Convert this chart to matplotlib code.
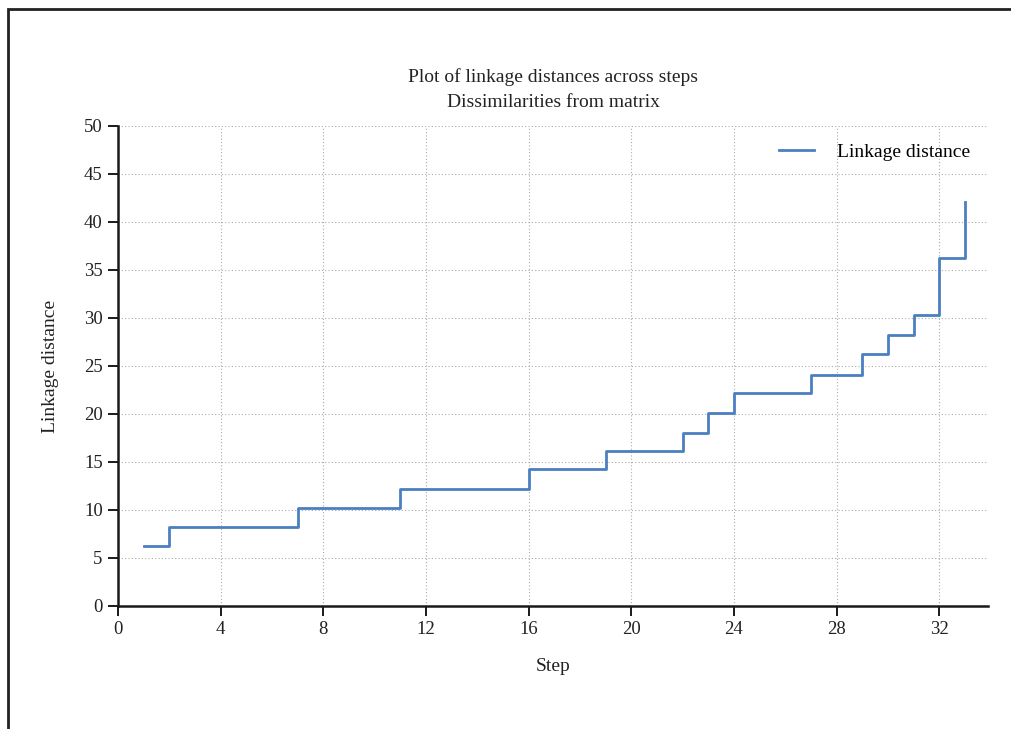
import matplotlib
matplotlib.use("Agg")
import matplotlib.pyplot as plt
from matplotlib.patches import Rectangle

steps = list(range(1, 34))
distances = [6.2, 8.2, 8.2, 8.2, 8.2, 8.2, 10.2, 10.2, 10.2, 10.2,
             12.2, 12.2, 12.2, 12.2, 12.2, 14.3, 14.3, 14.3, 16.1, 16.1,
             16.1, 18.0, 20.1, 22.2, 22.2, 22.2, 24.1, 24.1, 26.2, 28.2,
             30.3, 36.2, 42.1]
xticks = list(range(0, 33, 4))
yticks = list(range(0, 51, 5))

plt.rcParams['font.family'] = ['Liberation Serif', 'DejaVu Serif']

W, H = 1012, 729
fig = plt.figure(figsize=(W / 100, H / 100), dpi=100)
ax = fig.add_axes([118 / W, 1 - 606 / H, (988 - 118) / W, (606 - 126) / H])

ax.step(steps, distances, where='post', color='#4a7fc1', lw=2.0,
        label='Linkage distance')

ax.set_xlim(0, 33.9)
ax.set_ylim(0, 50)
ax.set_xticks(xticks)
ax.set_yticks(yticks)
ax.grid(True, linestyle=(0, (1, 2)), color='#aaaaaa', lw=0.8)
for s in ['top', 'right']:
    ax.spines[s].set_visible(False)
for s in ['left', 'bottom']:
    ax.spines[s].set_linewidth(1.8)
    ax.spines[s].set_color('#1a1a1a')
ax.tick_params(direction='out', length=7, width=1.4, color='#1a1a1a',
               labelsize=13.5, labelcolor='#222222', pad=4)

ax.set_title('Plot of linkage distances across steps\nDissimilarities from matrix',
             fontsize=14, color='#222222', pad=14, linespacing=1.6)
ax.set_xlabel('Step', fontsize=14, color='#222222', labelpad=14)
ax.set_ylabel('Linkage distance', fontsize=14, color='#222222', labelpad=18)

leg = ax.legend(loc='upper right', frameon=False, fontsize=14,
                handlelength=1.8, handletextpad=1.2,
                bbox_to_anchor=(1.0, 1.0))

fig.patches.append(Rectangle((8 / W, -0.1), 1.2, 1 - 9 / H + 0.1,
                             transform=fig.transFigure, fill=False,
                             edgecolor='#222222', lw=2.0))

fig.savefig('out.png', dpi=100)
